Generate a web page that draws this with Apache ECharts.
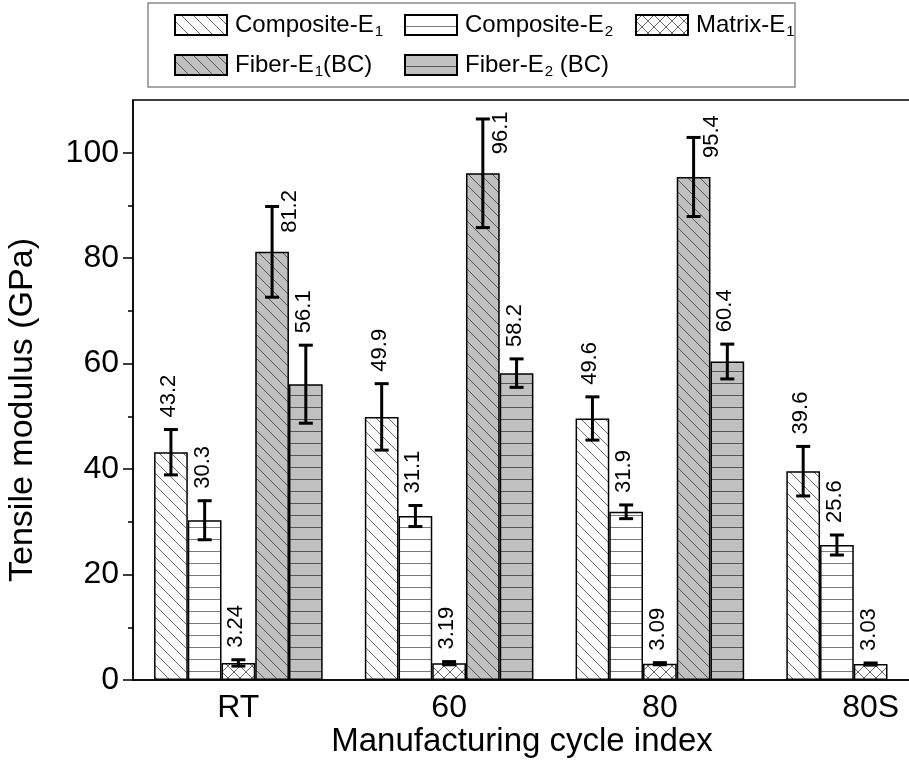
<!DOCTYPE html>
<html><head><meta charset="utf-8">
<script src="https://cdn.jsdelivr.net/npm/echarts@6/dist/echarts.min.js"></script>
<style>html,body{margin:0;padding:0;background:#fff}#c{width:909px;height:764px}</style>
</head><body><div id="c"></div>
<script>
// ---- data ----
const categories = ['RT', '60', '80', '80S'];
const seriesNames = ['Composite-E1', 'Composite-E2', 'Matrix-E1', 'Fiber-E1(BC)', 'Fiber-E2 (BC)'];
const compositeE1 = [43.2, 49.9, 49.6, 39.6];
const compositeE1Err = [4.3, 6.3, 4.1, 4.7];
const compositeE2 = [30.3, 31.1, 31.9, 25.6];
const compositeE2Err = [3.7, 2.0, 1.3, 1.9];
const matrixE1 = [3.24, 3.19, 3.09, 3.03];
const matrixE1Err = [0.6, 0.3, 0.2, 0.2];
const fiberE1 = [81.2, 96.1, 95.4, null];
const fiberE1Err = [8.6, 10.3, 7.5, null];
const fiberE2 = [56.1, 58.2, 60.4, null];
const fiberE2Err = [7.4, 2.7, 3.3, null];
const yMajorTicks = [0, 20, 40, 60, 80, 100];
const yMinorTicks = [10, 30, 50, 70, 90];

const values = [compositeE1, compositeE2, matrixE1, fiberE1, fiberE2];
const errors = [compositeE1Err, compositeE2Err, matrixE1Err, fiberE1Err, fiberE2Err];

const FONT = '"Liberation Sans", Arial, Helvetica, sans-serif';

function makePattern(bg, kind, lineColor) {
  const s = 12;
  const c = document.createElement('canvas');
  c.width = s; c.height = s;
  const g = c.getContext('2d');
  g.fillStyle = bg; g.fillRect(0, 0, s, s);
  g.strokeStyle = lineColor; g.lineWidth = 1;
  g.beginPath();
  if (kind === 'diag' || kind === 'cross') {
    g.moveTo(-1, s / 2 - 1); g.lineTo(s / 2 + 1, s + 1);
    g.moveTo(s / 2 - 1, -1); g.lineTo(s + 1, s / 2 + 1);
  }
  if (kind === 'cross') {
    g.moveTo(s / 2 + 1, -1); g.lineTo(-1, s / 2 + 1);
    g.moveTo(s + 1, s / 2 - 1); g.lineTo(s / 2 - 1, s + 1);
  }
  if (kind === 'horiz') {
    g.moveTo(0, s - 0.5); g.lineTo(s, s - 0.5);
  }
  g.stroke();
  return { image: c, repeat: 'repeat' };
}

const fills = [
  makePattern('#ffffff', 'diag', '#6a6a6a'),
  makePattern('#ffffff', 'horiz', '#7a7a7a'),
  makePattern('#ffffff', 'cross', '#6a6a6a'),
  makePattern('#c0c0c0', 'diag', '#555555'),
  makePattern('#c0c0c0', 'horiz', '#555555')
];

const richNames = {
  'Composite-E1': '{a|Composite-E}{s|1}',
  'Composite-E2': '{a|Composite-E}{s|2}',
  'Matrix-E1': '{a|Matrix-E}{s|1}',
  'Fiber-E1(BC)': '{a|Fiber-E}{s|1}{a|(BC)}',
  'Fiber-E2 (BC)': '{a|Fiber-E}{s|2}{a| (BC)}'
};

const barSeries = seriesNames.map((name, i) => ({
  name: name,
  type: 'bar',
  data: values[i],
  barGap: '0%',
  barCategoryGap: '20%',
  itemStyle: { color: fills[i], borderColor: '#000', borderWidth: 1.5 },
  emphasis: { disabled: true },
  z: 2
}));

const errData = [];
values.forEach((arr, si) => {
  arr.forEach((v, ci) => {
    if (v !== null) errData.push([ci, si, v, errors[si][ci]]);
  });
});

const errSeries = {
  type: 'custom',
  name: 'errors',
  data: errData,
  z: 5,
  silent: true,
  clip: false,
  renderItem: function (params, api) {
    const ci = api.value(0), si = api.value(1), v = api.value(2), e = api.value(3);
    const band = api.size([1, 0])[0];
    const usable = band * 0.8, bw = usable / 5;
    const c0 = api.coord([ci, 0]);
    const x = c0[0] - usable / 2 + bw * (si + 0.5);
    const yTop = api.coord([ci, v + e])[1];
    const yBot = api.coord([ci, v - e])[1];
    const yVal = api.coord([ci, v])[1];
    const cap = 7;
    const st = { stroke: '#000', lineWidth: 3 };
    let lx, ly;
    if (si === 3) { lx = x + 18; ly = yVal - 19; } else { lx = x - 2; ly = yTop - 12; }
    return {
      type: 'group',
      children: [
        { type: 'line', shape: { x1: x, y1: yTop, x2: x, y2: yBot }, style: st },
        { type: 'line', shape: { x1: x - cap, y1: yTop, x2: x + cap, y2: yTop }, style: st },
        { type: 'line', shape: { x1: x - cap, y1: yBot, x2: x + cap, y2: yBot }, style: st },
        {
          type: 'text', x: lx, y: ly, rotation: Math.PI / 2,
          style: {
            text: String(values[si][ci]), x: 0, y: 0,
            align: 'left', verticalAlign: 'middle',
            fontSize: 22, fontFamily: FONT, fill: '#000'
          }
        }
      ]
    };
  }
};

const legendCommon = {
  itemWidth: 52, itemHeight: 20, padding: 0,
  icon: 'rect',
  selectedMode: false,
  formatter: n => richNames[n],
  textStyle: {
    padding: [0, 0, 0, 3],
    rich: {
      a: { fontSize: 24, fontFamily: FONT, color: '#000', lineHeight: 28 },
      s: { fontSize: 15, fontFamily: FONT, color: '#000', lineHeight: 28, verticalAlign: 'bottom', padding: [12, 0, 0, 1] }
    }
  }
};

const option = {
  animation: false,
  backgroundColor: '#fff',
  textStyle: { fontFamily: FONT },
  grid: {
    left: 133, top: 100, height: 580, width: 843,
    show: true, borderColor: '#000', borderWidth: 1.5,
    containLabel: false, outerBoundsMode: 'none'
  },
  legend: [
    Object.assign({ data: ['Composite-E1'], left: 174, top: 12 }, legendCommon),
    Object.assign({ data: ['Composite-E2'], left: 404, top: 12 }, legendCommon),
    Object.assign({ data: ['Matrix-E1'], left: 635, top: 12 }, legendCommon),
    Object.assign({ data: ['Fiber-E1(BC)'], left: 174, top: 52 }, legendCommon),
    Object.assign({ data: ['Fiber-E2 (BC)'], left: 404, top: 52 }, legendCommon)
  ],
  xAxis: {
    type: 'category',
    data: categories,
    axisLine: { lineStyle: { color: '#000', width: 1.5 } },
    axisTick: { show: false },
    axisLabel: { fontSize: 32, color: '#000', margin: 12, fontFamily: FONT },
    splitLine: { show: false }
  },
  yAxis: [
    {
      type: 'value', min: 0, max: 110,
      name: 'Tensile modulus (GPa)', nameLocation: 'middle', nameGap: 93, nameRotate: 90,
      nameTextStyle: { fontSize: 34, color: '#000', fontFamily: FONT, padding: [0, 40, 0, 0] },
      axisLine: { show: true, lineStyle: { color: '#000', width: 1.5 } },
      axisTick: { show: true, customValues: yMajorTicks, length: 10, lineStyle: { color: '#000', width: 1.5 } },
      axisLabel: { customValues: yMajorTicks, fontSize: 32, color: '#000', margin: 14, fontFamily: FONT },
      splitLine: { show: false }
    },
    {
      type: 'value', min: 0, max: 110, position: 'left',
      axisLine: { show: false },
      axisTick: { show: true, customValues: yMinorTicks, length: 5, lineStyle: { color: '#000', width: 1.5 } },
      axisLabel: { show: false },
      splitLine: { show: false }
    }
  ],
  graphic: [
    { type: 'rect', shape: { x: 148, y: 3, width: 647, height: 84 }, style: { fill: 'none', stroke: '#8a8a8a', lineWidth: 1.5 }, z: 10 },
    { type: 'text', x: 522, y: 742, style: { text: 'Manufacturing cycle index', fontSize: 33, fontFamily: FONT, fill: '#000', align: 'center', verticalAlign: 'middle' }, z: 10 }
  ],
  series: barSeries.concat([errSeries])
};

const chart = echarts.init(document.getElementById('c'), null, { renderer: 'canvas' });
chart.setOption(option);
</script>
</body></html>
